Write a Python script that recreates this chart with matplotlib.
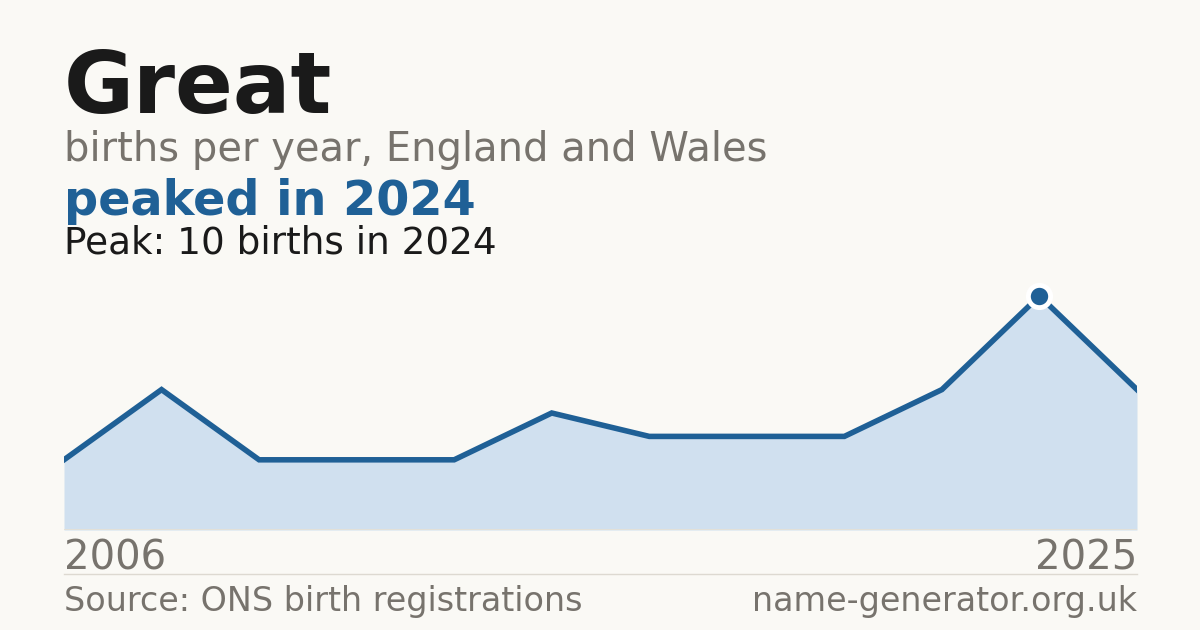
import matplotlib
matplotlib.use("Agg")
import matplotlib.pyplot as plt

# data (plotted by index, only ends labelled)
years = [2006, 2008, 2010, 2012, 2014, 2016, 2018, 2020, 2022, 2023, 2024, 2025]
births = [3, 6, 3, 3, 3, 5, 4, 4, 4, 6, 10, 6]
peak_year = 2024

title = "Great"
subtitle = "births per year, England and Wales"
headline = "peaked in 2024"
peak_note = "Peak: 10 births in 2024"
source = "Source: ONS birth registrations"
site = "name-generator.org.uk"

BG = "#FAF9F5"
INK = "#1A1A1A"
GREY = "#77736D"
BLUE = "#1F6096"
FILL = "#D0E0EF"

W, H = 1200, 630
fig = plt.figure(figsize=(12, 6.3), dpi=100, facecolor=BG)


def fx(x):
    return x / W


def fy(y):
    return 1 - y / H


# plot area
ax_left, ax_right, ax_bottom, ax_top = 64, 1137, 530, 272.6
ax = fig.add_axes([fx(ax_left), fy(ax_bottom), fx(ax_right - ax_left),
                   (ax_bottom - ax_top) / H])
ax.set_facecolor(BG)
xs = list(range(len(years)))
ax.fill_between(xs, births, 0, color=FILL, lw=0)
ax.plot(xs, births, color=BLUE, lw=4, solid_joinstyle="miter")
pk = years.index(peak_year)
ax.plot(xs[pk], births[pk], "o", ms=16, color=BLUE, mec="white", mew=3.5, zorder=5)
ax.set_xlim(0, len(years) - 1)
ax.set_ylim(0, 11)
ax.axis("off")
ax.axhline(0, color="#E6E0D4", lw=1.2)

# texts
fig.text(fx(64), fy(113), title, fontsize=61.5, fontweight="bold", color=INK, va="baseline")
fig.text(fx(64), fy(161), subtitle, fontsize=28.8, color=GREY, va="baseline")
fig.text(fx(64), fy(215), headline, fontsize=34.4, fontweight="bold", color=BLUE, va="baseline")
fig.text(fx(64), fy(254), peak_note, fontsize=26.9, color=INK, va="baseline")

fig.text(fx(64), fy(570), str(years[0]), fontsize=28.9, color=GREY, va="baseline")
fig.text(fx(1137), fy(570), str(years[-1]), fontsize=28.9, color=GREY, va="baseline", ha="right")

fig.add_artist(plt.Line2D([fx(64), fx(1137)], [fy(574), fy(574)], color="#DDD9D1", lw=1))

fig.text(fx(64), fy(611), source, fontsize=24, color=GREY, va="baseline")
fig.text(fx(1137), fy(611), site, fontsize=24, color=GREY, va="baseline", ha="right")

fig.savefig("out.png", dpi=100, facecolor=BG)
